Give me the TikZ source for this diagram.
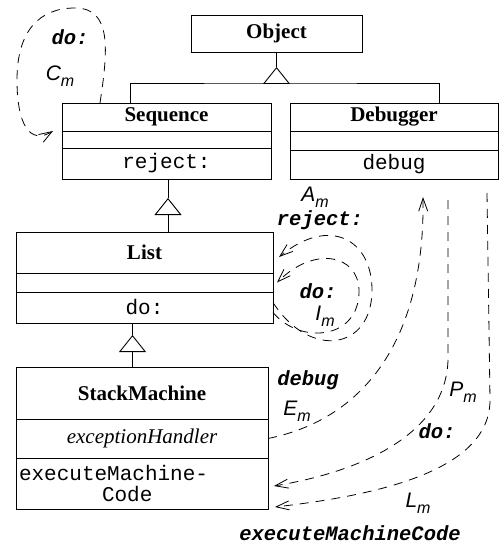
\documentclass[tikz,border=0pt]{standalone}
\usepackage{fontspec}
\setmainfont{Liberation Serif}
\setsansfont{Liberation Sans}
\setmonofont{Liberation Mono}
\usetikzlibrary{arrows.meta}

\newcommand{\msel}[1]{{\fontsize{20.5}{20.5}\selectfont\ttfamily\bfseries\itshape #1}}
\newcommand{\mlbl}[2]{{\fontsize{21}{21}\selectfont\sffamily\itshape #1\raisebox{-6pt}{\fontsize{16}{16}\selectfont #2}}}

\tikzset{
  cls/.style={draw, line width=0.9pt, inner sep=0pt, outer sep=0pt},
  clsname/.style={cls, font=\fontsize{21}{24}\selectfont\bfseries},
  clsattr/.style={cls, font=\fontsize{21}{24}\selectfont\itshape},
  clsops/.style={cls, font=\fontsize{21}{21}\selectfont\ttfamily},
  gen/.style={line width=0.9pt, -{Triangle[open,length=17pt,width=27pt]}},
  msg/.style={line width=0.8pt, dash pattern=on 9pt off 7pt, -{Straight Barb[length=13pt,width=9pt]}},
  lbl/.style={inner sep=0pt}
}

\begin{document}
\begin{tikzpicture}[x=1pt,y=-1pt]
\useasboundingbox (0,0) rectangle (501,545);
\node[clsname, minimum width=171pt, minimum height=37pt] (obj) at (276.5,33.5) {Object};
\node[clsname, minimum width=209pt, minimum height=28pt] (seqn) at (166.5,117) {Sequence};
\node[clsattr, minimum width=209pt, minimum height=17pt] (seqa) at (166.5,139.5) {};
\node[clsops, minimum width=209pt, minimum height=31pt] (seqo) at (166.5,163.5) {reject:};
\node[clsname, minimum width=208pt, minimum height=28pt] (dbgn) at (394,117) {Debugger};
\node[clsattr, minimum width=208pt, minimum height=19pt] (dbga) at (394,140.5) {};
\node[clsops, minimum width=208pt, minimum height=29pt] (dbgo) at (394,164.5) {debug};
\node[clsname, minimum width=257pt, minimum height=41pt] (lstn) at (144.5,252.5) {List};
\node[clsattr, minimum width=257pt, minimum height=19pt] (lsta) at (144.5,282.5) {};
\node[clsops, minimum width=257pt, minimum height=31pt] (lsto) at (144.5,307.5) {do:};
\node[clsname, minimum width=252pt, minimum height=52pt] (stkn) at (142,393) {StackMachine};
\node[clsattr, minimum width=252pt, minimum height=39pt] (stka) at (142,438.5) {exceptionHandler};
\node[clsops, minimum width=252pt, minimum height=51pt, text width=246pt, align=left] (stko) at (142,483.5)
  {executeMachine-\\\hspace*{83pt}Code};

% inheritance
\coordinate (bus) at ([yshift=-31pt]obj.south);
\coordinate (objtip) at ([yshift=-15pt]obj.south);
\draw[line width=0.9pt] (obj.south) -- (objtip);
\draw[gen] (bus) -- (objtip);
\draw[line width=0.9pt] ([xshift=-36.5pt]seqn.north) |- (bus) -| ([xshift=45pt]dbgn.north);
\coordinate (seqtip) at ([xshift=1.5pt,yshift=-19pt]seqo.south);
\draw[line width=0.9pt] ([xshift=1.5pt]seqo.south) -- (seqtip);
\draw[gen] (seqtip |- lstn.north) -- (seqtip);
\coordinate (lsttip) at ([xshift=-12pt,yshift=-12pt]lsto.south);
\draw[line width=0.9pt] ([xshift=-12pt]lsto.south) -- (lsttip);
\draw[gen] (lsttip |- stkn.north) -- (lsttip);

% messages
\draw[msg] ([xshift=-66.5pt]seqn.north) .. controls (108,50) and (112,8) .. (75,8)
  .. controls (40,8) and (17,30) .. (17,80) .. controls (17,125) and (30,145) .. ([xshift=-9pt,yshift=-14pt]seqn.west);
\node[lbl] (cdo) at (70,37) {\msel{do:}};
\node[lbl] (cm) at (60,76) {\mlbl{C}{m}};

\draw[msg] ([yshift=5pt]lsto.east) .. controls (310,360) and (372,350) .. (372,290)
  .. controls (372,240) and (330,215) .. ([xshift=6pt,yshift=-4.5pt]lstn.east);
\draw[msg] ([yshift=-5pt]lsto.east) .. controls (300,345) and (360,340) .. (359,290)
  .. controls (358,255) and (315,245) .. ([xshift=4pt]lsta.east);
\node[lbl] (am) at (315,197) {\mlbl{A}{m}};
\node[lbl] (arej) at (320,220) {\msel{reject:}};
\node[lbl] (ido) at (318,291) {\msel{do:}};
\node[lbl] (im) at (325,316) {\mlbl{I}{m}};

\draw[msg] (stka.east) .. controls (360,420) and (425,345) .. ([xshift=29pt,yshift=-18pt]dbgo.south);
\draw[msg] ([xshift=54pt,yshift=-21pt]dbgo.south) -- (448,360) .. controls (446,430) and (370,470) .. ([xshift=6pt,yshift=-2.5pt]stko.east);
\draw[msg] ([xshift=93pt,yshift=-14pt]dbgo.south) -- (490,400) .. controls (490,470) and (380,495) .. ([xshift=7pt,yshift=2pt]stko.south east);
\node[lbl] (edbg) at (308,380) {\msel{debug}};
\node[lbl] (em) at (297,411) {\mlbl{E}{m}};
\node[lbl] (pm) at (463,392) {\mlbl{P}{m}};
\node[lbl] (pdo) at (437,431) {\msel{do:}};
\node[lbl] (lm) at (418,503) {\mlbl{L}{m}};
\node[lbl] (lexe) at (350,533) {\msel{executeMachineCode}};
\end{tikzpicture}
\end{document}
